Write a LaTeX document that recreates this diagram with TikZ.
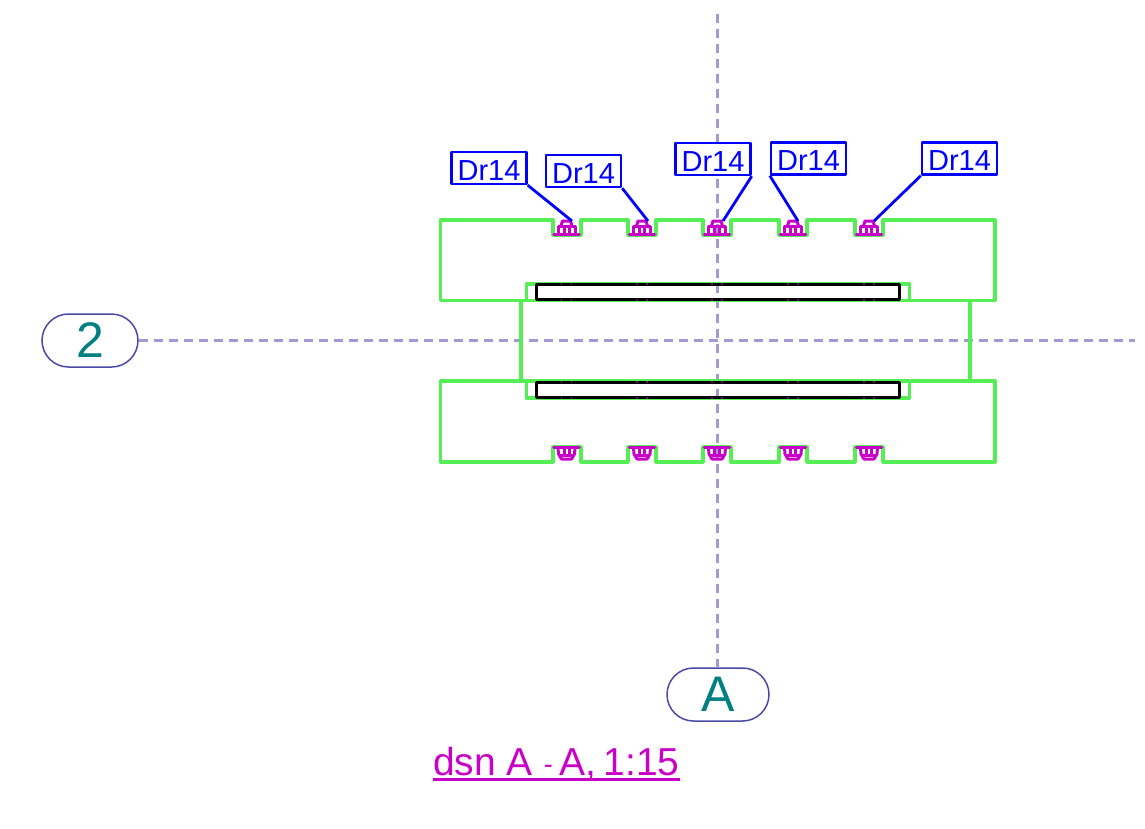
\documentclass[tikz,border=0pt]{standalone}
\usepackage{fontspec}
\setmainfont{Liberation Sans}
\usetikzlibrary{backgrounds, shapes.misc}
\definecolor{axisline}{HTML}{A09AD6}
\definecolor{pillline}{HTML}{4A48A8}
\definecolor{partgreen}{HTML}{55EE55}
\definecolor{boltpink}{HTML}{C800C8}
\definecolor{tagteal}{HTML}{008080}
\tikzset{
    part/.style={draw=partgreen,line width=3.1pt,line join=round},
    bolt/.style={draw=boltpink,line width=3pt,line join=round},
    axis/.style={draw=axisline,line width=2.2pt,dash pattern=on 9pt off 6pt},
    plate/.style={draw=black,line width=3pt,line join=round},
    tagbox/.style={draw=blue,line width=2.4pt,line join=round,fill=white,text=blue,inner sep=0pt,minimum width=75pt,minimum height=32pt,text height=24pt,text depth=0pt,font=\fontsize{29}{29}\selectfont},
    leader/.style={draw=blue,line width=2.8pt},
    refmark/.style={rounded rectangle,draw=pillline,line width=1.5pt,fill=white,text=tagteal,inner sep=0pt,minimum height=53pt,font=\fontsize{50}{50}\selectfont},
}
% bolt seen from the section, upper row and lower row
\newcommand{\uppernut}[1]{
    \draw[bolt] (#1-8.5,234) -- (#1-8.5,226) -- (#1+8.5,226) -- (#1+8.5,234);
    \draw[bolt] (#1-5.5,226) -- (#1-4,221) -- (#1+4,221) -- (#1+5.5,226);
    \draw[bolt] (#1-2.5,226) -- (#1-2.5,234) (#1+2.5,226) -- (#1+2.5,234);
    \draw[bolt,line width=3.6pt,line cap=round] (#1-12.5,234.5) -- (#1+12.5,234.5);
}
\newcommand{\lowernut}[1]{
    \draw[bolt,line width=3.6pt,line cap=round] (#1-12.5,447.5) -- (#1+12.5,447.5);
    \draw[bolt] (#1-8.5,448) -- (#1-8,454) -- (#1-5,459) -- (#1+5,459) -- (#1+8,454) -- (#1+8.5,448);
    \draw[bolt] (#1-2.5,448) -- (#1-2.5,455) -- (#1+2.5,455) -- (#1+2.5,448);
    \draw[bolt] (#1-6.5,455) -- (#1+6.5,455);
}
\newcommand{\platedots}[1]{
    \draw[boltpink!60!black,line width=1.4pt] (#1-5,283) -- (#1-5,285) (#1+5,283) -- (#1+5,285) (#1-5,299) -- (#1-5,301) (#1+5,299) -- (#1+5,301);
    \draw[boltpink!60!black,line width=1.4pt] (#1-5,381) -- (#1-5,383) (#1+5,381) -- (#1+5,383) (#1-5,397) -- (#1-5,399) (#1+5,397) -- (#1+5,399);
}
\begin{document}
\begin{tikzpicture}[x=1pt,y=-1pt]
    \useasboundingbox (0,0) rectangle (1145,828);
    % reference marks and tags
    \node[refmark,minimum width=96pt] (markTwo) at (90,340.5) {2};
    \node[refmark,minimum width=102pt] (markA) at (718,694.5) {A};
    \node[tagbox] (tagOne) at (489,168) {Dr14};
    \node[tagbox] (tagTwo) at (583.5,171) {Dr14};
    \node[tagbox] (tagThree) at (713,159) {Dr14};
    \node[tagbox] (tagFour) at (808.5,158.5) {Dr14};
    \node[tagbox] (tagFive) at (959.5,158.5) {Dr14};
    \coordinate (axisTop) at (717.5,14);
    \coordinate (axisEnd) at (1135,340.5);
    \coordinate (tipOne) at (572,221);
    \coordinate (tipTwo) at (648,221);
    \coordinate (tipThree) at (723,221);
    \coordinate (tipFour) at (798,221);
    \coordinate (tipFive) at (874,221);
    \begin{scope}[on background layer]
        \draw[axis] (axisTop) -- (axisTop |- markA.north);
        \draw[axis] (markTwo.east) -- (axisEnd);
    \end{scope}
    % upper flange
    \draw[part] (553,220) -- (440.5,220) -- (440.5,300.5) -- (995,300.5) -- (995,220) -- (883,220) -- (883,235) -- (855,235) -- (855,220)
        -- (807,220) -- (807,235) -- (779,235) -- (779,220) -- (731,220) -- (731,235) -- (703,235) -- (703,220)
        -- (656,220) -- (656,235) -- (628,235) -- (628,220) -- (581,220) -- (581,235) -- (553,235) -- cycle;
    % lower flange
    \draw[part] (553,462) -- (440.5,462) -- (440.5,381) -- (995,381) -- (995,462) -- (883,462) -- (883,447) -- (855,447) -- (855,462)
        -- (807,462) -- (807,447) -- (779,447) -- (779,462) -- (731,462) -- (731,447) -- (703,447) -- (703,462)
        -- (656,462) -- (656,447) -- (628,447) -- (628,462) -- (581,462) -- (581,447) -- (553,447) -- cycle;
    % middle part with the two recesses
    \draw[part] (521,300.5) -- (521,381) (970,300.5) -- (970,381);
    \draw[part] (526.5,300.5) -- (526.5,284) -- (909.5,284) -- (909.5,300.5);
    \draw[part] (526.5,381) -- (526.5,398) -- (909.5,398) -- (909.5,381);
    \draw[plate] (536,284.5) rectangle (899.5,299.5);
    \draw[plate] (536,382.5) rectangle (899.5,397.5);
    \platedots{566.5}
    \platedots{642}
    \platedots{717}
    \platedots{793}
    \platedots{869}
    \uppernut{566.5}
    \uppernut{642}
    \uppernut{717}
    \uppernut{793}
    \uppernut{869}
    \lowernut{566.5}
    \lowernut{642}
    \lowernut{717}
    \lowernut{793}
    \lowernut{869}
    \draw[leader] (tagOne.south east) -- (tipOne);
    \draw[leader] (tagTwo.south east) -- (tipTwo);
    \draw[leader] (tagThree.south east) -- (tipThree);
    \draw[leader] (tagFour.south west) -- (tipFour);
    \draw[leader] (tagFive.south west) -- (tipFive);
    % title
    \node[anchor=base west,inner sep=0pt,text=boltpink,font=\fontsize{39}{39}\selectfont] (titleText) at (433,775) {dsn A\hspace{11pt}\raisebox{2pt}{\fontsize{27}{27}\selectfont-}\hspace{7pt}A,\hspace{7pt}1:15};
    \draw[draw=boltpink,line width=3pt] (433,779) -- (680,779);
\end{tikzpicture}
\end{document}
